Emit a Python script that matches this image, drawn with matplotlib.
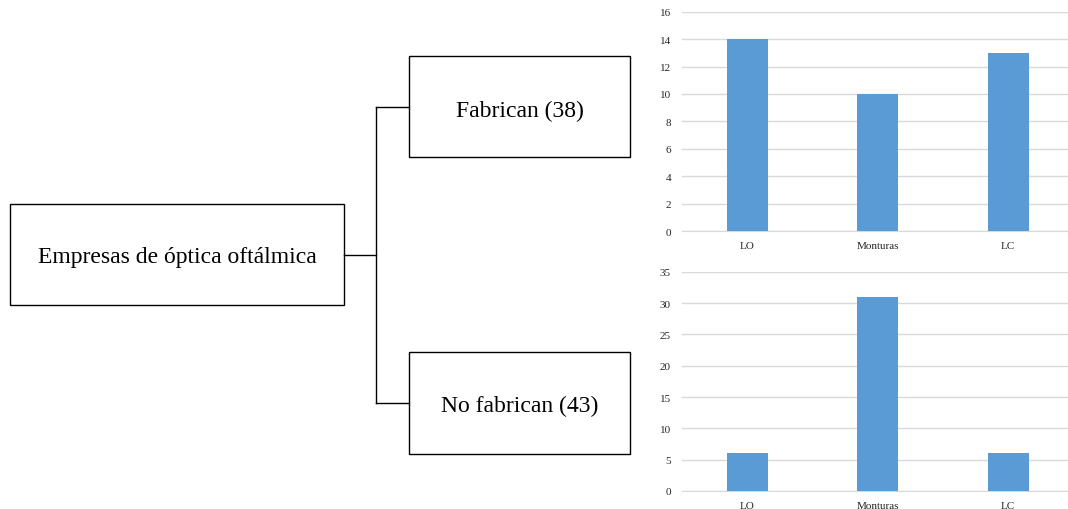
import numpy as np
import matplotlib.pyplot as plt
from matplotlib.patches import Rectangle

plt.rcParams['font.family'] = ['Liberation Serif', 'DejaVu Serif']

# datos
categorias = ['LO', 'Monturas', 'LC']
fabrican = [14, 10, 13]
no_fabrican = [6, 31, 6]
raiz = 'Empresas de óptica oftálmica'
rama_sup = 'Fabrican (38)'
rama_inf = 'No fabrican (43)'

W, H = 1068, 510
fig = plt.figure(figsize=(W / 100, H / 100), dpi=100)

# diagrama en coordenadas de pixel
ax0 = fig.add_axes([0, 0, 1, 1])
ax0.set_xlim(0, W)
ax0.set_ylim(H, 0)
ax0.axis('off')


def caja(x0, y0, x1, y1, texto, ty):
    ax0.add_patch(Rectangle((x0, y0), x1 - x0, y1 - y0, fill=False,
                            edgecolor='black', lw=1))
    ax0.text((x0 + x1) / 2, ty, texto, ha='center', va='center', fontsize=17)


caja(10, 205, 344, 306, raiz, 258)
caja(409, 57, 630, 158, rama_sup, 111)
caja(409, 353, 630, 455, rama_inf, 406)

ax0.plot([344, 376], [256, 256], color='black', lw=1)
ax0.plot([376, 376], [108, 404], color='black', lw=1)
ax0.plot([376, 409], [108, 108], color='black', lw=1)
ax0.plot([376, 409], [404, 404], color='black', lw=1)

x = np.arange(len(categorias))


def barras(pos, vals, ymax, paso):
    ax = fig.add_axes(pos)
    ax.bar(x, vals, width=0.315, color='#5B9BD5', zorder=3)
    ax.set_xlim(-0.5, 2.458)
    ax.set_ylim(0, ymax)
    ax.set_yticks(np.arange(0, ymax + 1, paso))
    ax.set_xticks(x)
    ax.set_xticklabels(categorias)
    ax.grid(axis='y', color='#d9d9d9', lw=1, zorder=0)
    for s in ['top', 'right', 'left']:
        ax.spines[s].set_visible(False)
    ax.spines['bottom'].set_color('#d9d9d9')
    ax.tick_params(length=0, labelsize=8, colors='#262626')
    ax.tick_params(axis='y', pad=8)
    ax.tick_params(axis='x', pad=7)
    ax.patch.set_alpha(0)
    return ax


barras([682 / W, (H - 232) / H, 386 / W, 219.3 / H], fabrican, 16, 2)
barras([682 / W, (H - 492) / H, 386 / W, 219.3 / H], no_fabrican, 35, 5)

fig.savefig('out.png', dpi=100)
